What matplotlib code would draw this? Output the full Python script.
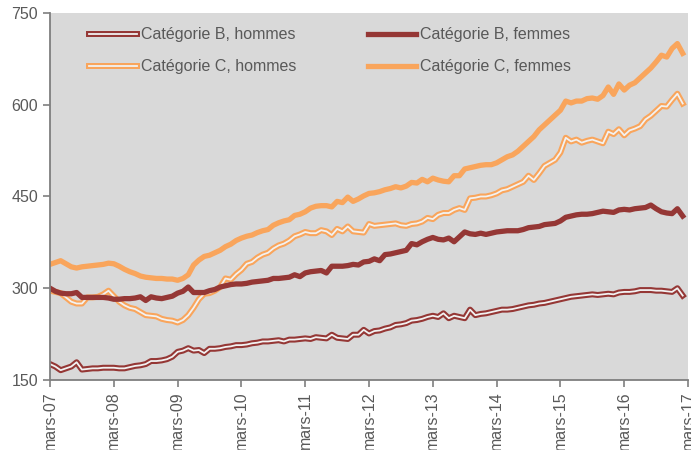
import matplotlib.pyplot as plt
import matplotlib.patheffects as pe
import numpy as np

plt.rcParams['font.family'] = ['Liberation Sans', 'DejaVu Sans']

# mensuel, de mars-07 à février-17
b_hommes = [176, 172, 166, 169, 172, 179, 167, 168, 169, 169, 170, 170,
            170, 169, 169, 171, 173, 174, 176, 181, 181, 182, 184, 188,
            196, 198, 202, 198, 199, 194, 201, 201, 202, 204, 205, 207,
            207, 208, 210, 211, 213, 213, 214, 215, 213, 216, 216, 217,
            218, 217, 220, 219, 218, 224, 219, 218, 217, 224, 224, 232,
            226, 230, 231, 234, 236, 240, 241, 243, 247, 248, 250, 253,
            255, 253, 259, 251, 255, 253, 251, 265, 256, 258, 259, 261,
            263, 265, 265, 266, 268, 270, 272, 273, 275, 276, 278, 280,
            282, 284, 286, 287, 288, 289, 290, 289, 290, 291, 290, 293,
            294, 294, 295, 297, 297, 297, 296, 296, 295, 294, 300, 288]
b_femmes = [300, 295, 292, 291, 291, 293, 285, 285, 285, 285, 285, 284,
            282, 282, 283, 283, 284, 286, 280, 286, 284, 283, 285, 287,
            292, 295, 302, 293, 293, 293, 296, 298, 302, 304, 306, 307,
            307, 308, 310, 311, 312, 313, 316, 316, 317, 318, 322, 319,
            325, 327, 328, 329, 325, 336, 336, 336, 337, 339, 338, 343,
            344, 348, 345, 355, 356, 358, 360, 362, 373, 371, 376, 380,
            383, 380, 379, 382, 376, 384, 392, 389, 388, 390, 388, 390,
            392, 393, 394, 394, 394, 396, 399, 400, 401, 404, 405, 406,
            410, 416, 418, 420, 421, 421, 422, 424, 426, 425, 424, 428,
            429, 428, 430, 431, 432, 436, 430, 425, 423, 422, 430, 418]
c_hommes = [296, 294, 292, 285, 278, 275, 275, 285, 285, 286, 290, 296,
            287, 278, 272, 268, 266, 261, 256, 255, 254, 250, 248, 247,
            244, 248, 256, 268, 282, 291, 292, 296, 302, 316, 314, 323,
            330, 340, 343, 350, 355, 358, 365, 370, 373, 378, 385, 388,
            392, 390, 390, 395, 393, 387, 397, 393, 401, 393, 392, 391,
            405, 402, 403, 404, 405, 406, 403, 402, 405, 406, 409, 415,
            413, 420, 423, 423, 428, 431, 428, 447, 448, 450, 450, 452,
            455, 460, 462, 466, 470, 474, 484, 477, 488, 500, 505, 510,
            522, 546, 540, 543, 538, 541, 543, 540, 537, 556, 552, 560,
            550, 558, 561, 565, 576, 582, 590, 598, 597, 608, 618, 602]
c_femmes = [339, 342, 345, 340, 335, 333, 335, 336, 337, 338, 339, 341,
            340, 336, 331, 327, 324, 320, 318, 317, 316, 316, 315, 315,
            313, 316, 322, 338, 346, 352, 354, 358, 362, 368, 372, 378,
            382, 385, 387, 391, 394, 396, 403, 407, 410, 412, 419, 421,
            425, 431, 434, 435, 435, 433, 442, 440, 449, 442, 446, 451,
            455, 456, 458, 461, 463, 466, 464, 467, 473, 472, 478, 474,
            480, 477, 475, 474, 484, 484, 495, 497, 499, 501, 502, 502,
            505, 510, 515, 518, 524, 532, 540, 548, 559, 567, 575, 583,
            591, 606, 603, 606, 606, 610, 611, 609, 615, 629, 617, 634,
            624, 632, 636, 644, 652, 660, 670, 681, 678, 692, 700, 684]

tick_labels = ['mars-07', 'mars-08', 'mars-09', 'mars-10', 'mars-11', 'mars-12',
               'mars-13', 'mars-14', 'mars-15', 'mars-16', 'mars-17']

rouge = '#953735'
orange = '#F9A55C'
gris_txt = '#595959'

x = np.arange(len(b_hommes))

fig = plt.figure(figsize=(6.91, 4.5), dpi=100)
ax = fig.add_axes([0.0724, 0.1556, 0.9233, 0.8155])
ax.set_facecolor('#D9D9D9')

def double_ligne(serie, couleur, label):
    ax.plot(x, serie, color='#F2F2F2', lw=1.3, label=label,
            solid_joinstyle='round',
            path_effects=[pe.Stroke(linewidth=4.3, foreground=couleur), pe.Normal()])

double_ligne(b_hommes, rouge, 'Catégorie B, hommes')
double_ligne(c_hommes, orange, 'Catégorie C, hommes')
ax.plot(x, b_femmes, color=rouge, lw=3.8, label='Catégorie B, femmes', solid_joinstyle='round')
ax.plot(x, c_femmes, color=orange, lw=3.8, label='Catégorie C, femmes', solid_joinstyle='round')

ax.set_xlim(0, 120)
ax.set_ylim(150, 750)
ax.set_yticks([150, 300, 450, 600, 750])
ax.set_xticks(np.arange(0, 121, 12))
ax.set_xticklabels(tick_labels, rotation=90)

for s in ['top', 'right']:
    ax.spines[s].set_visible(False)
for s in ['left', 'bottom']:
    ax.spines[s].set_color('#7F7F7F')
    ax.spines[s].set_linewidth(1.3)
ax.tick_params(axis='both', colors='#7F7F7F', labelcolor=gris_txt,
               labelsize=11.5, length=5, width=1.2)
ax.tick_params(axis='x', pad=3)

leg = ax.legend(loc='upper left', bbox_to_anchor=(0.129, 0.939),
                bbox_transform=fig.transFigure, ncol=2, frameon=False,
                fontsize=11.5, handlelength=3.0, handletextpad=0.25,
                columnspacing=4.5, labelspacing=1.05, borderpad=0,
                borderaxespad=0)
for t in leg.get_texts():
    t.set_color(gris_txt)

fig.savefig('out.png', dpi=100)
